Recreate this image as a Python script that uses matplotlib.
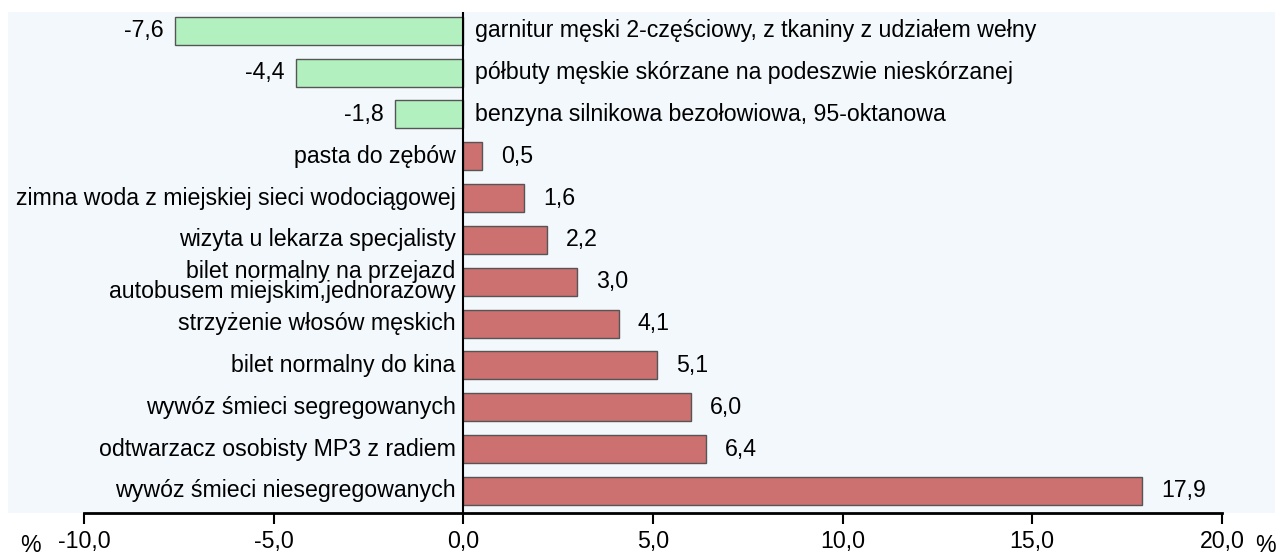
import matplotlib.pyplot as plt

# price changes, top to bottom
categories = [
    "garnitur męski 2-częściowy, z tkaniny z udziałem wełny",
    "półbuty męskie skórzane na podeszwie nieskórzanej",
    "benzyna silnikowa bezołowiowa, 95-oktanowa",
    "pasta do zębów",
    "zimna woda z miejskiej sieci wodociągowej",
    "wizyta u lekarza specjalisty",
    "bilet normalny na przejazd\nautobusem miejskim,jednorazowy",
    "strzyżenie włosów męskich",
    "bilet normalny do kina",
    "wywóz śmieci segregowanych",
    "odtwarzacz osobisty MP3 z radiem",
    "wywóz śmieci niesegregowanych",
]
values = [-7.6, -4.4, -1.8, 0.5, 1.6, 2.2, 3.0, 4.1, 5.1, 6.0, 6.4, 17.9]
ticks = [-10, -5, 0, 5, 10, 15, 20]

plt.rcParams['font.family'] = ['Liberation Sans', 'DejaVu Sans']
FS = 16.7

fig = plt.figure(figsize=(12.79, 5.56), dpi=100)
ax = fig.add_axes([8 / 1279, 43 / 556, 1267 / 1279, 501 / 556])
ax.set_facecolor('#f3f8fc')

ypos = list(range(len(values)))
colors = ['#b3f0bf' if v < 0 else '#cc7070' for v in values]
ax.barh(ypos, values, height=0.67, color=colors, edgecolor='#555555', linewidth=1)
ax.axvline(0, color='black', linewidth=1.5, zorder=3)

for y, v, c in zip(ypos, values, categories):
    txt = f"{v:.1f}".replace('.', ',')
    if v < 0:
        ax.text(v - 0.3, y, txt, ha='right', va='center', fontsize=FS)
        ax.text(0.3, y, c, ha='left', va='center', fontsize=FS)
    else:
        ax.text(v + 0.5, y, txt, ha='left', va='center', fontsize=FS)
        ax.text(-0.2, y, c, ha='right', va='center', fontsize=FS,
                linespacing=0.85)

ax.set_xlim(-12.0, 21.4)
ax.set_ylim(11.53, -0.45)
ax.set_yticks([])
ax.set_xticks(ticks)
ax.set_xticklabels([f"{t:.1f}".replace('.', ',') for t in ticks], fontsize=FS)
ax.tick_params(axis='x', direction='out', length=8, width=1.5, pad=4)
for s in ['top', 'left', 'right']:
    ax.spines[s].set_visible(False)
ax.spines['bottom'].set_bounds(-10, 20)
ax.spines['bottom'].set_linewidth(2)

fig.text(30 / 1279, 1 - 552 / 556, '%', ha='center', va='baseline', fontsize=FS)
fig.text(1265 / 1279, 1 - 552 / 556, '%', ha='center', va='baseline', fontsize=FS)

fig.savefig('out.png', dpi=100, facecolor='white')
